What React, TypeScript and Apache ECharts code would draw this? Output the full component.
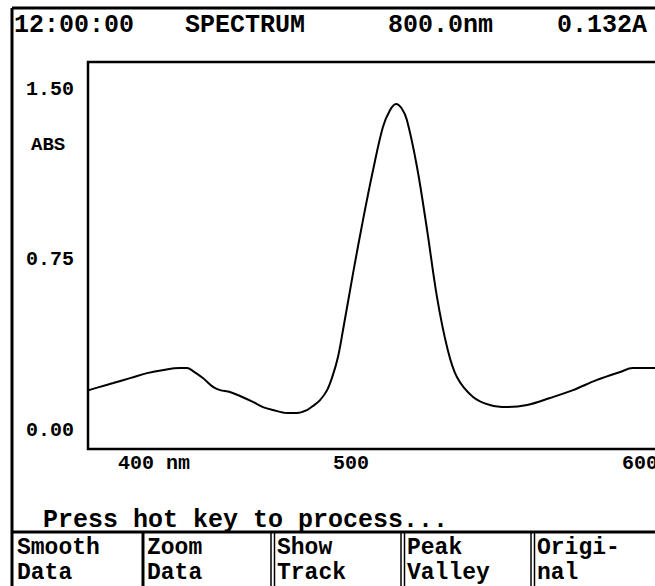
import React, { useEffect, useRef } from "react";
import * as echarts from "echarts";

// Spectrum (wavelength nm, absorbance)
const wavelengths = [
  378.0, 384.0, 390.0, 397.0, 403.4, 410.0, 416.4, 419.2, 421.6, 425.5, 429.5, 432.3,
  436.2, 440.2, 445.3, 449.3, 453.3, 458.8, 462.8, 466.7, 469.1, 471.9, 474.7, 477.0,
  479.0, 481.0, 485.0, 488.9, 492.9, 496.8, 499.6, 502.0, 504.2, 506.3, 510.3, 514.3,
  518.2, 522.2, 526.1, 532.5, 539.2, 545.9, 553.9, 563.0, 572.1, 581.6, 590.7, 595.8, 604.6,
];
const absorbance = [
  0.168, 0.188, 0.207, 0.23, 0.251, 0.265, 0.273, 0.273, 0.26, 0.229, 0.19, 0.176,
  0.168, 0.15, 0.124, 0.101, 0.088, 0.075, 0.075, 0.088, 0.106, 0.132, 0.176, 0.243,
  0.322, 0.441, 0.693, 0.926, 1.147, 1.337, 1.411, 1.438, 1.419, 1.367, 1.16, 0.882,
  0.587, 0.366, 0.234, 0.146, 0.11, 0.101, 0.11, 0.141, 0.176, 0.221, 0.256, 0.273, 0.273,
];
const yTickValues = [0, 0.75, 1.5];
const xTickLabels = ["400 nm", "500", "600"];
const headerTexts = ["12:00:00", "SPECTRUM", "800.0nm", "0.132A"];
const yAxisName = "ABS";
const promptText = "Press hot key to process...";
const buttonLabels = [
  ["Smooth", "Data"],
  ["Zoom", "Data"],
  ["Show", "Track"],
  ["Peak", "Valley"],
  ["Origi-", "nal"],
];

const FONT = "Liberation Mono";
const headerX = [14, 185, 388, 557];
const xLabelX = [118, 333, 622];
const buttonX = [17, 147, 277, 407, 537];

export default function App() {
  const ref = useRef<HTMLDivElement>(null);
  useEffect(() => {
    if (!ref.current) return;
    const chart = echarts.init(ref.current, null, { renderer: "svg" });
    const txt = (text: string, x: number, y: number, size: number) => ({
      type: "text",
      x,
      y,
      z: 10,
      style: {
        text,
        fill: "#000",
        font: `bold ${size}px "${FONT}"`,
        textVerticalAlign: "middle",
        verticalAlign: "middle",
      },
    });
    const line = (x1: number, y1: number, x2: number, y2: number, w: number) => ({
      type: "line",
      shape: { x1, y1, x2, y2 },
      style: { stroke: "#000", lineWidth: w },
    });
    const graphics: any[] = [
      line(12, 8, 700, 8, 3),
      line(12, 8, 12, 590, 3),
      line(12, 532, 700, 532, 3),
      line(143, 532, 143, 590, 3),
      line(271, 532, 271, 590, 1.5),
      line(274.5, 532, 274.5, 590, 1.5),
      line(401, 532, 401, 590, 1.5),
      line(404.5, 532, 404.5, 590, 1.5),
      line(531, 532, 531, 590, 1.5),
      line(534.5, 532, 534.5, 590, 1.5),
    ];
    headerTexts.forEach((t, i) => graphics.push(txt(t, headerX[i], 25, 25)));
    xTickLabels.forEach((t, i) => graphics.push(txt(t, xLabelX[i], 463, 20)));
    graphics.push(txt(yAxisName, 31, 145, 19));
    graphics.push(txt(promptText, 43, 520, 25));
    buttonLabels.forEach((b, i) => {
      graphics.push(txt(b[0], buttonX[i], 548, 23));
      graphics.push(txt(b[1], buttonX[i], 573, 23));
    });

    chart.setOption({
      animation: false,
      backgroundColor: "#fff",
      grid: {
        left: 88,
        top: 62,
        width: 606,
        height: 387,
        outerBoundsMode: "none",
        containLabel: false,
        show: true,
        borderColor: "#000",
        borderWidth: 2.5,
        backgroundColor: "transparent",
      },
      xAxis: {
        type: "value",
        min: 380,
        max: 620,
        axisLine: { show: false },
        axisTick: { show: false },
        axisLabel: { show: false },
        splitLine: { show: false },
      },
      yAxis: {
        type: "value",
        min: -0.0838,
        max: 1.6233,
        axisLine: { show: false },
        axisTick: { show: false },
        splitLine: { show: false },
        axisLabel: {
          customValues: yTickValues,
          formatter: (v: number) => v.toFixed(2),
          margin: 14,
          color: "#000",
          fontFamily: FONT,
          fontWeight: "bold",
          fontSize: 20,
        },
      },
      series: [
        {
          type: "line",
          data: wavelengths.map((w, i) => [w, absorbance[i]]),
          showSymbol: false,
          smooth: 0.35,
          clip: false,
          lineStyle: { color: "#000", width: 2 },
        },
      ],
      graphic: graphics,
    });
    return () => chart.dispose();
  }, []);
  return (
    <div style={{ position: "absolute", left: 0, top: 0, width: 655, height: 586, overflow: "hidden", background: "#fff" }}>
      <div ref={ref} style={{ width: 720, height: 586 }} />
    </div>
  );
}
